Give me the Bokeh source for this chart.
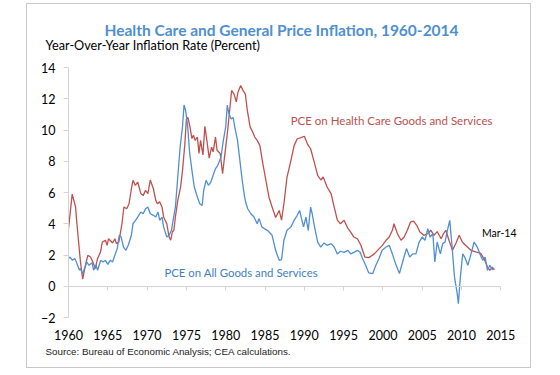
from bokeh.plotting import figure
from bokeh.models import LinearAxis, FixedTicker, CustomJSTickFormatter, Label, Title
from bokeh.embed import file_html
from bokeh.resources import INLINE

# ---- data ----
hc_year = [1960.0, 1960.47, 1960.9, 1961.0, 1961.5, 1961.8, 1962.2, 1962.46, 1962.8, 1963.1,
           1963.4, 1963.7, 1964.07, 1964.3, 1964.7, 1964.9, 1965.1, 1965.6, 1965.9, 1966.1,
           1966.4, 1966.8, 1967.05, 1967.4, 1967.7, 1968.0, 1968.2, 1968.5, 1968.8, 1969.2,
           1969.5, 1969.8, 1970.1, 1970.4, 1970.8, 1971.1, 1971.3, 1971.6, 1971.9, 1972.1,
           1972.5, 1972.8, 1973.0, 1973.2, 1973.4, 1973.6, 1973.9, 1974.26, 1974.5, 1974.8,
           1975.0, 1975.2, 1975.45, 1975.7, 1975.9, 1976.1, 1976.4, 1976.6, 1976.8, 1977.1,
           1977.35, 1977.6, 1977.9, 1978.2, 1978.4, 1978.7, 1978.9, 1979.3, 1979.6, 1979.8,
           1980.0, 1980.2, 1980.5, 1980.75, 1981.05, 1981.35, 1981.55, 1981.9, 1982.2, 1982.5,
           1982.75, 1983.1, 1983.4, 1983.7, 1984.0, 1984.35, 1984.65, 1985.1, 1985.5, 1985.9,
           1986.35, 1986.8, 1987.1, 1987.4, 1987.8, 1988.3, 1988.7, 1989.1, 1989.5, 1990.0,
           1990.4, 1990.8, 1991.2, 1991.7, 1992.1, 1992.4, 1992.9, 1993.4, 1993.8, 1994.2,
           1994.6, 1995.05, 1995.55, 1995.9, 1996.3, 1996.75, 1997.2, 1997.7, 1998.2, 1998.9,
           1999.5, 1999.9, 2000.4, 2000.8, 2001.2, 2001.4, 2001.85, 2002.3, 2002.7, 2003.1,
           2003.5, 2003.9, 2004.3, 2004.7, 2005.2, 2005.7, 2006.1, 2006.5, 2006.9, 2007.4,
           2007.7, 2008.0, 2008.4, 2008.85, 2009.3, 2009.7, 2010.1, 2010.5, 2011.2, 2011.8,
           2012.45, 2012.96, 2013.3, 2013.6, 2013.9, 2014.17]
hc_rate = [3.69, 5.9, 5.07, 4.4, 1.66, 0.45, 1.45, 1.98, 1.87, 1.55,
           1.13, 1.77, 2.19, 2.83, 2.94, 2.62, 3.04, 2.77, 3.04, 2.73,
           2.83, 4.0, 5.07, 4.96, 5.28, 6.24, 6.78, 6.46, 6.67, 5.93,
           5.8, 6.14, 5.93, 6.8, 6.24, 5.5, 5.28, 5.4, 5.07, 4.43,
           4.0, 3.15, 2.95, 3.47, 3.58, 4.43, 5.5, 6.35, 7.4, 9.1,
           10.7, 10.8, 10.2, 9.45, 9.66, 9.34, 9.55, 8.5, 9.34, 8.4,
           10.23, 9.34, 8.2, 8.9, 8.6, 9.55, 8.7, 8.5, 7.2, 8.06,
           8.9, 9.76, 11.25, 12.53, 12.3, 11.8, 12.4, 12.85, 12.53, 12.3,
           11.25, 10.2, 9.9, 9.55, 9.34, 9.0, 8.06, 6.8, 5.7, 5.07,
           4.4, 4.85, 4.23, 5.28, 6.99, 8.06, 9.0, 9.44, 9.5, 9.6,
           9.1, 8.8, 8.06, 7.1, 6.8, 7.0, 6.35, 5.93, 5.07, 4.23,
           4.0, 4.23, 3.7, 3.47, 3.15, 3.04, 2.62, 1.87, 1.83, 2.07,
           2.39, 2.6, 2.94, 3.15, 3.58, 4.0, 3.36, 2.94, 3.15, 3.58,
           4.1, 4.17, 3.9, 3.47, 3.26, 3.36, 3.58, 3.26, 3.5, 3.04,
           3.36, 3.58, 2.94, 2.3, 2.77, 3.26, 2.83, 2.62, 2.3, 2.2,
           2.1, 1.66, 1.23, 1.02, 1.23, 1.05]

all_year = [1960.0, 1960.2, 1960.5, 1960.8, 1961.0, 1961.4, 1961.5, 1961.8, 1962.1, 1962.35,
            1962.6, 1963.0, 1963.2, 1963.5, 1963.7, 1964.1, 1964.4, 1964.7, 1965.0, 1965.3,
            1965.6, 1965.9, 1966.2, 1966.45, 1966.7, 1967.0, 1967.3, 1967.6, 1968.0, 1968.2,
            1968.5, 1968.8, 1969.2, 1969.5, 1969.8, 1970.1, 1970.4, 1970.8, 1971.1, 1971.4,
            1971.6, 1971.9, 1972.1, 1972.5, 1972.8, 1973.1, 1973.3, 1973.6, 1973.9, 1974.2,
            1974.5, 1974.7, 1974.9, 1975.15, 1975.4, 1975.7, 1976.0, 1976.4, 1976.7, 1977.0,
            1977.2, 1977.5, 1977.8, 1978.1, 1978.4, 1978.7, 1979.0, 1979.4, 1979.7, 1980.0,
            1980.2, 1980.4, 1980.7, 1980.95, 1981.15, 1981.5, 1981.8, 1982.1, 1982.4, 1982.6,
            1982.8, 1983.2, 1983.6, 1984.0, 1984.25, 1984.6, 1984.9, 1985.3, 1985.9, 1986.35,
            1986.8, 1987.1, 1987.4, 1987.8, 1988.3, 1988.7, 1989.1, 1989.4, 1989.7, 1989.9,
            1990.2, 1990.5, 1990.8, 1991.0, 1991.3, 1991.7, 1992.1, 1992.5, 1992.9, 1993.4,
            1993.8, 1994.2, 1994.6, 1995.05, 1995.55, 1995.9, 1996.3, 1996.75, 1997.1, 1997.4,
            1997.8, 1998.2, 1998.7, 1999.1, 1999.5, 1999.9, 2000.4, 2000.8, 2001.2, 2001.6,
            2002.1, 2002.5, 2003.0, 2003.4, 2003.8, 2004.2, 2004.6, 2005.0, 2005.35, 2005.7,
            2006.0, 2006.35, 2006.6, 2006.9, 2007.3, 2007.6, 2007.9, 2008.2, 2008.5, 2008.8,
            2009.1, 2009.45, 2009.6, 2009.85, 2010.15, 2010.4, 2010.8, 2011.1, 2011.6, 2012.0,
            2012.4, 2012.7, 2013.0, 2013.3, 2013.6, 2013.9, 2014.17]
all_rate = [1.77, 1.87, 1.66, 1.77, 1.55, 1.02, 1.13, 0.8, 1.23, 1.55,
            1.34, 1.5, 1.02, 1.34, 1.02, 1.66, 1.55, 1.66, 1.4, 1.66,
            1.55, 1.98, 2.41, 3.26, 3.15, 2.51, 2.3, 2.62, 3.26, 4.0,
            4.2, 4.43, 4.75, 4.64, 4.96, 5.07, 4.64, 4.54, 4.43, 4.75,
            4.22, 4.43, 3.8, 3.15, 3.26, 3.58, 4.22, 5.07, 6.99, 8.9,
            10.2, 11.6, 11.25, 10.3, 8.6, 7.42, 6.35, 5.7, 5.28, 5.17,
            6.14, 6.78, 6.46, 6.67, 7.1, 7.53, 7.74, 8.27, 9.34, 10.2,
            11.6, 11.05, 10.7, 10.8, 10.2, 9.34, 8.06, 6.78, 5.7, 5.28,
            4.96, 4.64, 4.43, 4.0, 4.33, 3.8, 3.69, 3.58, 3.26, 2.3,
            1.66, 1.7, 2.94, 3.58, 3.8, 4.22, 4.54, 4.85, 4.22, 3.8,
            4.43, 3.58, 5.07, 4.64, 3.8, 2.83, 2.51, 2.77, 2.62, 2.73,
            2.51, 2.07, 2.24, 2.17, 2.3, 2.07, 2.17, 2.3, 2.17, 1.77,
            1.34, 0.85, 0.81, 1.34, 1.77, 2.3, 2.51, 2.62, 2.07, 1.45,
            0.81, 1.55, 2.41, 1.87, 2.07, 2.07, 2.83, 3.15, 2.94, 3.68,
            3.15, 3.36, 1.55, 2.83, 2.07, 2.73, 2.83, 3.58, 4.22, 2.51,
            0.6, -0.47, -1.11, 0.6, 2.07, 1.87, 1.34, 1.87, 2.83, 2.51,
            1.98, 1.66, 1.87, 1.02, 1.34, 1.07, 1.13]

year_ticks = [1960, 1965, 1970, 1975, 1980, 1985, 1990, 1995, 2000, 2005, 2010, 2015]
rate_ticks = [-2, 0, 2, 4, 6, 8, 10, 12, 14]

TITLE = "Health Care and General Price Inflation, 1960-2014"
Y_LABEL = "Year-Over-Year Inflation Rate (Percent)"
SOURCE = "Source: Bureau of Economic Analysis; CEA calculations."
HC_NAME = "PCE on Health Care Goods and Services"
ALL_NAME = "PCE on All Goods and Services"
END_LABEL = "Mar-14"

RED = "#c0504d"
BLUE = "#4f8fd3"
TITLE_BLUE = "#4f8fcf"
GRAY = "#d4d4d4"
FONT = "Lato"

p = figure(width=505, height=365,
           x_range=(year_ticks[0], 2017.5),
           y_range=(rate_ticks[0], rate_ticks[-1]),
           output_backend="svg", toolbar_location=None,
           min_border_left=41, min_border_right=12,
           min_border_top=63, min_border_bottom=52,
           margin=(3, 0, 0, 26),
           styles={"border": "1px solid #c8c8c8"})
p.xgrid.visible = False
p.ygrid.visible = False
p.outline_line_color = None
p.background_fill_color = "white"
p.border_fill_color = "white"

# y axis
p.yaxis.ticker = FixedTicker(ticks=rate_ticks)
p.yaxis.axis_line_color = GRAY
p.yaxis.major_tick_line_color = GRAY
p.yaxis.major_tick_out = 5
p.yaxis.major_tick_in = 0
p.yaxis.minor_tick_line_color = None
p.yaxis.major_label_standoff = 8
p.yaxis.major_label_text_font = FONT
p.yaxis.major_label_text_font_size = "12.5px"
p.yaxis.major_label_text_color = "black"

# bottom label axis (labels only)
p.xaxis.ticker = FixedTicker(ticks=year_ticks)
p.xaxis.axis_line_color = None
p.xaxis.major_tick_line_color = None
p.xaxis.minor_tick_line_color = None
p.xaxis.major_tick_out = 0
p.xaxis.major_tick_in = 0
p.xaxis.major_label_standoff = 12
p.xaxis.major_label_text_font = FONT
p.xaxis.major_label_text_font_size = "12.5px"
p.xaxis.major_label_text_color = "black"

# horizontal axis line crossing at zero
zero_axis = LinearAxis(fixed_location=0, ticker=FixedTicker(ticks=year_ticks),
                       bounds=(year_ticks[0], year_ticks[-1]),
                       formatter=CustomJSTickFormatter(code="return ''"),
                       axis_line_color=GRAY, major_tick_line_color=GRAY,
                       major_tick_out=4, major_tick_in=0,
                       minor_tick_line_color=None, major_label_standoff=0,
                       major_label_text_font_size="1px")
p.add_layout(zero_axis, "below")

p.add_layout(Title(text=SOURCE, align="left", offset=-23, standoff=2,
                   text_font="Liberation Sans", text_font_size="9.8px",
                   text_font_style="normal", text_color="#222222"), "below")
p.add_layout(Title(text=Y_LABEL, align="left", offset=-23, standoff=30,
                   text_font=FONT, text_font_size="12.7px",
                   text_font_style="normal", text_color="black"), "above")
p.add_layout(Title(text=TITLE, align="left", offset=36, standoff=-38,
                   text_font=FONT, text_font_size="15.5px",
                   text_font_style="bold", text_color=TITLE_BLUE), "above")

p.line(hc_year, hc_rate, line_color=RED, line_width=1.3)
p.line(all_year, all_rate, line_color=BLUE, line_width=1.3)

p.add_layout(Label(x=1988.26, y=10.6, text=HC_NAME,
                   text_align="left", text_baseline="middle",
                   text_font=FONT, text_font_size="11.5px", text_color=RED))
p.add_layout(Label(x=1972.2, y=0.88, text=ALL_NAME,
                   text_align="left", text_baseline="middle",
                   text_font=FONT, text_font_size="11.4px", text_color="#3f7fc4"))
p.add_layout(Label(x=2012.6, y=3.38, text=END_LABEL,
                   text_align="left", text_baseline="middle",
                   text_font=FONT, text_font_size="10.5px", text_color="black"))

open("out.html", "w").write(file_html(p, INLINE))
